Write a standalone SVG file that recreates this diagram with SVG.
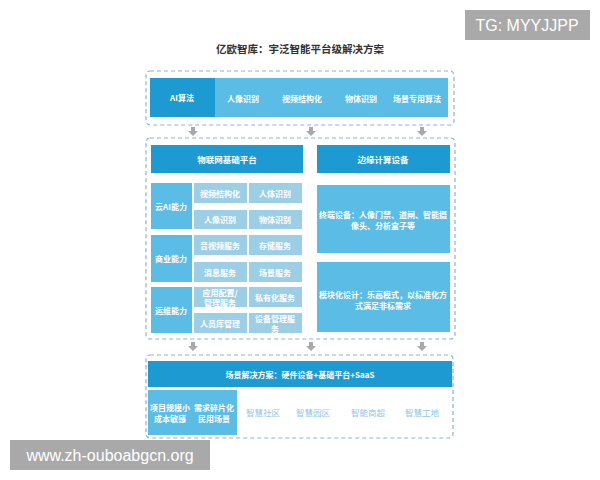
<svg xmlns="http://www.w3.org/2000/svg" width="600" height="480" viewBox="0 0 600 480">
<defs>
<style>
text{font-family:"Noto Sans CJK SC","Noto Sans",sans-serif;font-weight:bold;text-anchor:middle;dominant-baseline:central}
.frame{fill:none;stroke:#8fb3c8;stroke-width:1.2;stroke-dasharray:4 3}
.dark{fill:#1e9ad3}
.mid{fill:#5bbde6}
.cell{fill:#9ccfe6}
.w{fill:#ffffff;font-size:8px}
.wt{fill:#ffffff;font-size:8.5px}
.lt{fill:#8cc8e8;font-size:8.5px;font-weight:normal}
.arr{fill:#a7a9ac}
.wm{fill:#a9a9a9}
.wmt{fill:#ffffff;font-family:"Liberation Sans",Arial,sans-serif;font-weight:normal;font-size:16px}
</style>
<g id="arrowshape"><path class="arr" d="M-2,0 H2 V4 H5 L0,9 L-5,4 H-2 Z"/></g>
</defs>
<rect width="600" height="480" fill="#ffffff"/>
<text x="300" y="48" style="fill:#333;font-size:10.5px">亿欧智库：宇泛智能平台级解决方案</text>

<g id="layer-algo">
<rect class="frame" x="146" y="71" width="308" height="54" rx="4"/>
<g id="ai"><rect class="dark" x="150" y="78" width="65" height="39"/><text class="w" x="182" y="97">AI算法</text></g>
<g id="algos"><rect class="mid" x="215" y="78" width="233" height="39"/>
<text class="w" x="243" y="98">人像识别</text>
<text class="w" x="302" y="98">视频结构化</text>
<text class="w" x="361" y="98">物体识别</text>
<text class="w" x="417" y="98">场景专用算法</text></g>
</g>

<g id="layer-platform">
<rect class="frame" x="146" y="138" width="309" height="201" rx="4"/>
<g id="iot"><rect class="dark" x="151" y="145" width="152" height="28"/><text class="wt" x="227" y="159">物联网基础平台</text></g>
<g id="cloud-ai">
<rect class="mid" x="151" y="183" width="41" height="46"/><text class="w" x="171" y="206">云AI能力</text>
<rect class="cell" x="194" y="183" width="53" height="20"/><text class="w" x="220" y="193">视频结构化</text>
<rect class="cell" x="249" y="183" width="53" height="20"/><text class="w" x="275" y="193">人体识别</text>
<rect class="cell" x="194" y="210" width="53" height="19"/><text class="w" x="220" y="219">人像识别</text>
<rect class="cell" x="249" y="210" width="53" height="19"/><text class="w" x="275" y="219">物体识别</text>
</g>
<g id="business">
<rect class="mid" x="151" y="235" width="41" height="47"/><text class="w" x="171" y="258">商业能力</text>
<rect class="cell" x="194" y="235" width="53" height="20"/><text class="w" x="220" y="245">音视频服务</text>
<rect class="cell" x="249" y="235" width="53" height="20"/><text class="w" x="275" y="245">存储服务</text>
<rect class="cell" x="194" y="262" width="53" height="20"/><text class="w" x="220" y="272">消息服务</text>
<rect class="cell" x="249" y="262" width="53" height="20"/><text class="w" x="275" y="272">场景服务</text>
</g>
<g id="ops">
<rect class="mid" x="151" y="287" width="41" height="46"/><text class="w" x="171" y="310">运维能力</text>
<rect class="cell" x="194" y="287" width="53" height="20"/><text class="w" x="220" y="292">应用配置/</text><text class="w" x="220" y="302">管理服务</text>
<rect class="cell" x="249" y="287" width="53" height="20"/><text class="w" x="275" y="297">私有化服务</text>
<rect class="cell" x="194" y="313" width="53" height="20"/><text class="w" x="220" y="323">人员库管理</text>
<rect class="cell" x="249" y="313" width="53" height="20"/><text class="w" x="275" y="318">设备管理服</text><text class="w" x="275" y="328">务</text>
</g>
<g id="edge"><rect class="dark" x="317" y="145" width="133" height="28"/><text class="wt" x="383" y="159">边缘计算设备</text></g>
<g id="terminal"><rect class="mid" x="317" y="185" width="133" height="68"/>
<text class="w" x="383" y="214">终端设备：人像门禁、道闸、智能摄</text>
<text class="w" x="383" y="225">像头、分析盒子等</text></g>
<g id="module"><rect class="mid" x="317" y="262" width="133" height="70"/>
<text class="w" x="383" y="294">模块化设计：乐高模式，以标准化方</text>
<text class="w" x="383" y="305">式满足非标需求</text></g>
</g>

<g id="connectors">
<use href="#arrowshape" x="193" y="127"/>
<use href="#arrowshape" x="311" y="127"/>
<use href="#arrowshape" x="422" y="127"/>
<use href="#arrowshape" x="193" y="342"/>
<use href="#arrowshape" x="311" y="342"/>
<use href="#arrowshape" x="422" y="342"/>
</g>

<g id="layer-scene">
<rect class="frame" x="146" y="355" width="307" height="83" rx="4"/>
<g id="scene-head"><rect class="dark" x="148" y="361" width="304" height="26"/><text class="w" x="300" y="374">场景解决方案：硬件设备+基础平台+SaaS</text></g>
<g id="scene-need"><rect class="mid" x="148" y="390" width="89" height="45"/>
<text class="w" x="170" y="407">项目规模小</text><text class="w" x="170" y="418">成本敏感</text>
<text class="w" x="214" y="407">需求碎片化</text><text class="w" x="214" y="418">民用场景</text></g>
<text class="lt" x="263" y="412">智慧社区</text>
<text class="lt" x="313" y="412">智慧园区</text>
<text class="lt" x="368" y="412">智能商超</text>
<text class="lt" x="422" y="412">智慧工地</text>
</g>

<g id="watermarks">
<rect class="wm" x="465" y="10" width="125" height="30"/><text class="wmt" x="527" y="25">TG: MYYJJPP</text>
<rect class="wm" x="10" y="440" width="200" height="30"/><text class="wmt" x="110" y="455">www.zh-ouboabgcn.org</text>
</g>
</svg>
